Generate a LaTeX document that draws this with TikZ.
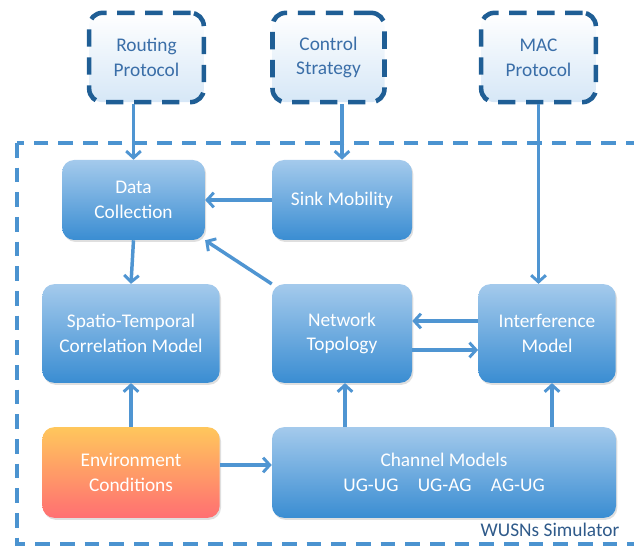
\documentclass[tikz,border=0pt]{standalone}
\usepackage{fontspec}
\setmainfont{Carlito}
\usepackage{tikz}
\usetikzlibrary{arrows.meta,positioning,calc,shadows}
\definecolor{boxtop}{HTML}{A4CAEC}
\definecolor{boxbot}{HTML}{3A8DD2}
\definecolor{envtop}{HTML}{FFC75C}
\definecolor{envbot}{HTML}{FF6F72}
\definecolor{protoedge}{HTML}{1F5E95}
\definecolor{prototext}{HTML}{3A6EA8}
\definecolor{framecol}{HTML}{4B93D0}
\definecolor{arrowcol}{HTML}{4F95D2}
\definecolor{simtext}{HTML}{2F5A8A}
\tikzset{
	block/.style={rounded corners=9pt, top color=boxtop, bottom color=boxbot, text=white, align=center,
		drop shadow={shadow xshift=1pt, shadow yshift=-1.5pt, opacity=0.25}},
	proto/.style={rounded corners=10pt, draw=protoedge, line width=3.4pt, dash pattern=on 13pt off 8pt,
		top color=white, bottom color=boxtop!45, text=prototext, align=center,
		minimum width=86pt, minimum height=67pt},
	link/.style={draw=arrowcol, line width=2.6pt, -{Straight Barb[length=5pt,width=11pt,line width=2.2pt]}},
}
\begin{document}
\begin{tikzpicture}[x=0.75pt, y=-0.75pt, font=\fontsize{14.5}{18.5}\selectfont]
		\clip (0,0) rectangle (634,548);
		% simulator frame
		\draw[framecol, line width=3.5pt, dash pattern=on 11pt off 7.5pt] (17,143) rectangle (680,544);
		\node[text=simtext, anchor=east]	(simname)	at (624,530)	{WUSNs Simulator};
		
		\node[proto]		(routing)		at (146.5,57.5)		{Routing\\Protocol};
		\node[proto, minimum width=84pt]	(control)	at (328.5,57.5)	{Control\\Strategy};
		\node[proto]		(mac)			at (538.5,57.5)		{MAC\\Protocol};
		
		\node[block, minimum width=107pt, minimum height=60pt]	(datacol)	at (133.5,200)	{Data\\Collection};
		\node[block, minimum width=105pt, minimum height=60pt]	(sink)		at (342,200)	{Sink Mobility};
		\node[block, minimum width=133pt, minimum height=74pt]	(spatio)	at (131,333.5)	{Spatio-Temporal\\Correlation Model};
		\node[block, minimum width=105pt, minimum height=74pt]	(network)	at (342,333.5)	{Network\\Topology};
		\node[block, minimum width=103pt, minimum height=74pt]	(interf)	at (547,333.5)	{Interference\\Model};
		\node[block, minimum width=133pt, minimum height=68pt, top color=envtop, bottom color=envbot]	(env)	at (131,472.5)	{Environment\\Conditions};
		\node[block, minimum width=258pt, minimum height=68pt]	(channel)	at (444,472.5)	{Channel Models\\UG-UG\quad UG-AG\quad AG-UG};
		
		\draw[link] (datacol.north |- routing.south) -- (datacol.north);
		\draw[link] (sink.north |- control.south) -- (sink.north);
		\draw[link] (mac.south) -- (mac.south |- interf.north);
		\draw[link] (sink.west) -- (datacol.east);
		\draw[link] (network.north west) -- (datacol.south east);
		\draw[link] (datacol.south) -- (spatio.north);
		\draw[link] (env.north) -- (spatio.south);
		\draw[link] (env.east |- 0,465) -- (channel.west |- 0,465);
		\draw[link] (channel.north -| 345,0) -- (network.south -| 345,0);
		\draw[link] (channel.north -| 552,0) -- (interf.south -| 552,0);
		\draw[link] (interf.west |- 0,321) -- (network.east |- 0,321);
		\draw[link] (network.east |- 0,350) -- (interf.west |- 0,350);
	\end{tikzpicture}
\end{document}
